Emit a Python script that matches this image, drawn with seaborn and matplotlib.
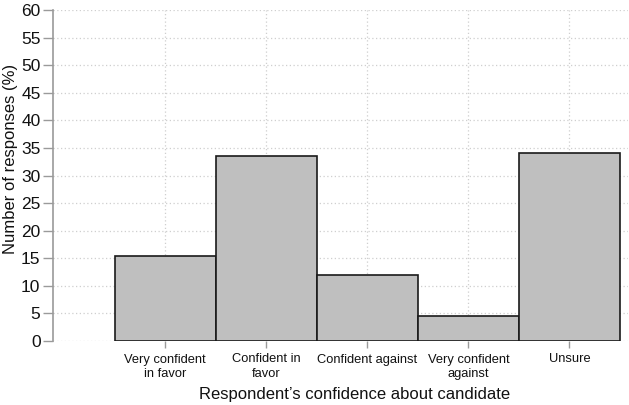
import matplotlib
matplotlib.use("Agg")
import matplotlib.pyplot as plt
import seaborn as sns
import pandas as pd

categories = ["Very confident\nin favor", "Confident in\nfavor", "Confident against",
              "Very confident\nagainst", "Unsure"]
values = [15.35, 33.5, 11.9, 4.5, 34.1]
yticks = list(range(0, 61, 5))

sns.set_style("white")
plt.rcParams['font.family'] = ['Liberation Sans', 'DejaVu Sans']

df = pd.DataFrame({"cat": categories, "val": values})

W, H = 629, 405
fig = plt.figure(figsize=(W / 100, H / 100), dpi=100)
ax = fig.add_axes([53 / W, 64 / H, 575 / W, 331 / H])

sns.barplot(data=df, x="cat", y="val", ax=ax, width=1.0, color="#bfbfbf",
            edgecolor="#1a1a1a", linewidth=1.2, saturation=1)

ax.set_xlim(-1.11, 4.58)
ax.set_ylim(0, 60)
ax.set_yticks(yticks)
ax.grid(True, axis="both", linestyle=(0, (1, 2)), color="#cfcfcf", linewidth=0.9)
ax.set_axisbelow(True)

for s in ["top", "right", "bottom"]:
    ax.spines[s].set_visible(False)
ax.spines["left"].set_color("#9a9a9a")
ax.spines["left"].set_linewidth(1.2)

ax.tick_params(axis="y", which="both", left=True, length=7, width=1, color="#9a9a9a",
               labelsize=12.5, pad=2, labelcolor="#111111")
ax.tick_params(axis="x", which="both", bottom=True, length=5, width=1, color="#9a9a9a",
               labelsize=9.3, pad=4, labelcolor="#111111")
for lbl in ax.get_xticklabels():
    lbl.set_linespacing(1.25)

ax.set_xlabel("Respondent\u2019s confidence about candidate", fontsize=12, color="#111111")
ax.set_ylabel("Number of responses (%)", fontsize=12, color="#111111")
ax.xaxis.label.set_verticalalignment("center")
ax.xaxis.set_label_coords((355 - 53) / 575, (H - 394 - 64) / 331)
ax.yaxis.label.set_verticalalignment("center")
ax.yaxis.set_label_coords((11 - 53) / 575, (H - 159 - 64) / 331)

fig.savefig("out.png", dpi=100)
